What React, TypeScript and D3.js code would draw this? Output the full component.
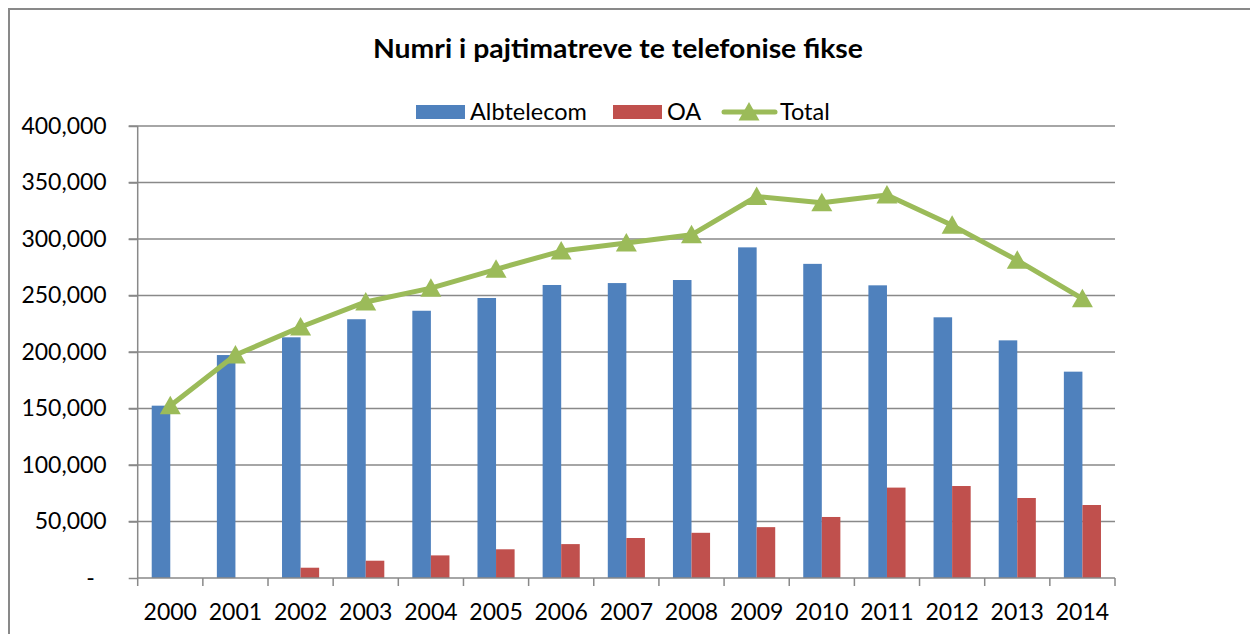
import React, { useEffect, useRef } from 'react';
import * as d3 from 'd3';

const years = ['2000', '2001', '2002', '2003', '2004', '2005', '2006', '2007', '2008', '2009', '2010', '2011', '2012', '2013', '2014'];
const albtelecom = [152500, 197300, 213000, 229000, 236500, 247800, 259300, 261000, 263700, 292600, 278000, 259000, 230700, 210300, 182600];
const oa = [0, 0, 9100, 15300, 20000, 25400, 30000, 35400, 40000, 45000, 54000, 80000, 81400, 70800, 64600];
const total = [152500, 197300, 222100, 244300, 256500, 273200, 289300, 296400, 303700, 337600, 332000, 339000, 312100, 281100, 247200];
const yTicks = [0, 50000, 100000, 150000, 200000, 250000, 300000, 350000, 400000];
const seriesNames = ['Albtelecom', 'OA', 'Total'];

const BLUE = '#4F81BD';
const RED = '#C0504D';
const GREEN = '#9BBB59';
const GRID = '#898989';
const FONT = 'Lato, "Open Sans", sans-serif';

const triangle = 'M0,-10 L10.5,8.5 L-10.5,8.5 Z';

function App() {
  const ref = useRef<SVGSVGElement>(null);

  useEffect(() => {
    const width = 1250,
      height = 634;
    const left = 137.7,
      right = 1115,
      top = 126,
      bottom = 578;

    const svg = d3.select(ref.current);
    svg.selectAll('*').remove();
    svg.attr('width', width).attr('height', height);

    // chart border (only top and left edges visible)
    svg.append('rect')
      .attr('x', 9).attr('y', 9)
      .attr('width', width + 20).attr('height', height + 20)
      .attr('fill', 'white')
      .attr('stroke', GRID)
      .attr('stroke-width', 2);

    const x = d3.scaleBand<string>().domain(years).range([left, right]);
    const xSub = d3.scaleBand<string>()
      .domain(['Albtelecom', 'OA'])
      .range([0, x.bandwidth()])
      .paddingInner(0)
      .paddingOuter(0.755);
    const y = d3.scaleLinear().domain([0, 400000]).range([bottom, top]);

    // gridlines
    svg.append('g')
      .selectAll('line')
      .data(yTicks.filter((d) => d > 0))
      .enter()
      .append('line')
      .attr('x1', left - 9)
      .attr('x2', right)
      .attr('y1', (d) => y(d))
      .attr('y2', (d) => y(d))
      .attr('stroke', GRID)
      .attr('stroke-width', 1.5);

    // y axis
    const yAxis = svg.append('g')
      .attr('transform', 'translate(' + left + ',0)')
      .call(
        d3.axisLeft(y)
          .tickValues(yTicks)
          .tickSize(9)
          .tickPadding(22)
          .tickFormat((d) => (+d === 0 ? '-' : d3.format(',')(+d)))
      );
    yAxis.selectAll('path, line').attr('stroke', GRID).attr('stroke-width', 1.5);
    yAxis.selectAll('text')
      .attr('font-family', FONT)
      .attr('font-size', 23)
      .attr('fill', '#000')
      .attr('dx', (d: any) => (+d === 0 ? -12 : 0));
    yAxis.select('.domain').attr('d', 'M0,' + top + 'V' + bottom);

    // bars
    const groups = svg.append('g')
      .selectAll('g')
      .data(years)
      .enter()
      .append('g')
      .attr('transform', (d) => 'translate(' + x(d) + ',0)');

    groups.append('rect')
      .attr('x', xSub('Albtelecom') as number)
      .attr('width', xSub.bandwidth())
      .attr('y', (d, i) => y(albtelecom[i]))
      .attr('height', (d, i) => y(0) - y(albtelecom[i]))
      .attr('fill', BLUE);

    groups.append('rect')
      .attr('x', xSub('OA') as number)
      .attr('width', xSub.bandwidth())
      .attr('y', (d, i) => y(oa[i]))
      .attr('height', (d, i) => y(0) - y(oa[i]))
      .attr('fill', RED);

    // x axis
    const xAxis = svg.append('g')
      .attr('transform', 'translate(0,' + bottom + ')')
      .call(d3.axisBottom(x).tickSize(0).tickPadding(0));
    xAxis.select('.domain')
      .attr('d', 'M' + left + ',0H' + right)
      .attr('stroke', GRID)
      .attr('stroke-width', 1.5);
    xAxis.selectAll('text')
      .attr('font-family', FONT)
      .attr('font-size', 23)
      .attr('fill', '#000')
      .attr('dy', 0)
      .attr('y', 42);
    xAxis.append('g')
      .selectAll('line')
      .data(d3.range(years.length + 1))
      .enter()
      .append('line')
      .attr('x1', (i) => left + i * x.step())
      .attr('x2', (i) => left + i * x.step())
      .attr('y1', 0)
      .attr('y2', 8)
      .attr('stroke', GRID)
      .attr('stroke-width', 1.5);

    // total line
    const line = d3.line<number>()
      .x((d, i) => (x(years[i]) as number) + x.bandwidth() / 2)
      .y((d) => y(d));

    svg.append('path')
      .datum(total)
      .attr('d', line)
      .attr('fill', 'none')
      .attr('stroke', GREEN)
      .attr('stroke-width', 5)
      .attr('stroke-linejoin', 'round')
      .attr('stroke-linecap', 'round');

    svg.append('g')
      .selectAll('path')
      .data(total)
      .enter()
      .append('path')
      .attr('d', triangle)
      .attr('transform', (d, i) => 'translate(' + ((x(years[i]) as number) + x.bandwidth() / 2) + ',' + y(d) + ')')
      .attr('fill', GREEN);

    // title
    svg.append('text')
      .attr('x', 618)
      .attr('y', 58)
      .attr('text-anchor', 'middle')
      .attr('font-family', FONT)
      .attr('font-weight', 'bold')
      .attr('font-size', 27)
      .attr('textLength', 490)
      .attr('lengthAdjust', 'spacingAndGlyphs')
      .text('Numri i pajtimatreve te telefonise fikse');

    // legend
    const legend = svg.append('g').attr('font-family', FONT).attr('font-size', 23.5);
    legend.append('rect').attr('x', 416).attr('y', 105).attr('width', 49).attr('height', 14).attr('fill', BLUE);
    legend.append('text').attr('x', 470).attr('y', 119.5).text(seriesNames[0]);
    legend.append('rect').attr('x', 613).attr('y', 105).attr('width', 49).attr('height', 14).attr('fill', RED);
    legend.append('text').attr('x', 667).attr('y', 119.5).text(seriesNames[1]);
    legend.append('line')
      .attr('x1', 724).attr('x2', 775).attr('y1', 112).attr('y2', 112)
      .attr('stroke', GREEN).attr('stroke-width', 5).attr('stroke-linecap', 'round');
    legend.append('path').attr('d', triangle).attr('transform', 'translate(749,112)').attr('fill', GREEN);
    legend.append('text').attr('x', 780).attr('y', 119.5).text(seriesNames[2]);
  }, []);

  return (
    <svg ref={ref} style={{ position: 'absolute', left: 0, top: 0, background: 'white' }} />
  );
}

export default App;
